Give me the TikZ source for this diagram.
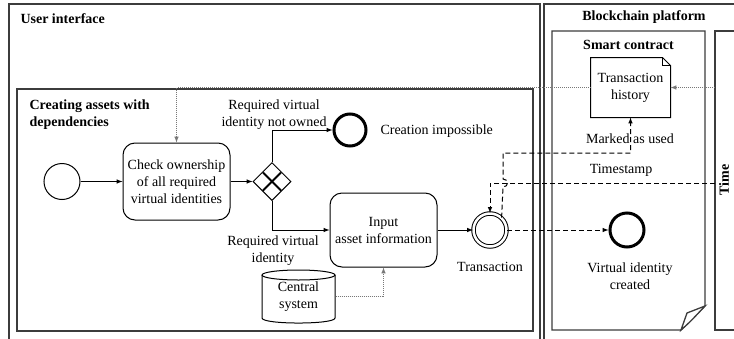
\documentclass[tikz,border=0pt]{standalone}
\usepackage{fontspec}
\setmainfont{Liberation Serif}
\usetikzlibrary{shapes.geometric}
\definecolor{lanegray}{RGB}{60,60,60}
\definecolor{dotgray}{RGB}{120,120,120}

\begin{document}
\begin{tikzpicture}[x=1pt, y=-1pt, line width=1pt,
    font=\fontsize{14}{17}\selectfont,
    lane/.style={draw=lanegray, line width=1.3pt},
    task/.style={draw, rounded corners=12pt, minimum width=107pt, align=center, inner sep=2pt},
    startev/.style={draw, circle, minimum size=36pt, inner sep=0pt},
    endev/.style={draw, circle, line width=3pt, inner sep=0pt},
    lbl/.style={align=center, inner sep=0pt},
    title/.style={font=\fontsize{14}{17}\selectfont\bfseries, inner sep=0pt},
    flow/.style={-latex},
    msgflow/.style={dash pattern=on 5pt off 3pt, -latex},
    assoc/.style={draw=dotgray, densely dotted, -latex}]
    % Fix the page size
    \useasboundingbox (0,0) rectangle (734,338);
    \clip (0,0) rectangle (734,338);

    % Pools and lanes
    \draw[lane] (9,345) -- (9,4) -- (540,4) -- (540,345);
    \draw[lane] (544,345) -- (544,4) -- (740,4);
    \draw[lane, line width=1.6pt] (17,89) rectangle (533,331);
    \draw[lane] (552,31) -- (705,31) -- (705,306) -- (681,330) -- (552,330) -- cycle;
    \draw[lane, fill=white] (705,306) -- (687,313) -- (681,330) .. controls (690,322) .. cycle;
    \draw[lane] (740,31) -- (715,31) -- (715,330) -- (740,330);

    % Titles
    \node[title, anchor=west] (tui) at (20,19) {User interface};
    \node[title, anchor=west, align=left] (tca) at (29,114.5) {Creating assets with\\dependencies};
    \node[title] (tbp) at (644,17) {Blockchain platform};
    \node[title] (tsc) at (628.5,45) {Smart contract};
    \node[title, rotate=90] (ttm) at (724,180) {Time};

    % Process elements
    \node[startev] (start) at (62,181.5) {};
    \node[task, minimum height=77pt] (check) at (176.5,181.5) {Check ownership\\of all required\\virtual identities};
    \node[draw, diamond, minimum width=38pt, minimum height=38pt, inner sep=0pt] (gw) at (272,181.5) {};
    \draw[line width=2pt] ([shift={(-9,-9)}]gw.center) -- ([shift={(9,9)}]gw.center);
    \draw[line width=2pt] ([shift={(-9,9)}]gw.center) -- ([shift={(9,-9)}]gw.center);
    \node[endev, minimum size=32pt] (impossible) at (350,130) {};
    \node[task, minimum height=74pt] (input) at (383.5,230) {Input\\asset information};
    \node[draw, circle, double, double distance=2.5pt, minimum size=33pt, inner sep=0pt] (trans) at (490,230) {};
    \node[endev, minimum size=34pt] (created) at (627,230) {};

    % Central system (data store)
    \node[lbl, minimum width=73pt, minimum height=53pt] (central) at (298.5,296.5) {Central\\system};
    \draw (298.5,275) ellipse [x radius=36.5pt, y radius=5pt];
    \draw (262,275) -- (262,318) .. controls (262,324.7) and (335,324.7) .. (335,318) -- (335,275);

    % Transaction history (document)
    \node[lbl, minimum width=79pt, minimum height=59pt] (hist) at (630.5,87.5) {Transaction\\history};
    \draw (hist.south west) -- (hist.north west) -- ([xshift=-8pt]hist.north east)
        -- ([yshift=-8pt]hist.north east) -- (hist.south east) -- cycle;
    \draw ([xshift=-8pt]hist.north east) -- ([xshift=-8pt, yshift=-8pt]hist.north east)
        -- ([yshift=-8pt]hist.north east);

    % Labels
    \node[lbl] (lnot) at (274,114.5) {Required virtual\\identity not owned};
    \node[lbl, anchor=west] (limp) at (380,131) {Creation impossible};
    \node[lbl] (lreq) at (273,250.5) {Required virtual\\identity};
    \node[lbl] (ltr) at (490,267) {Transaction};
    \node[lbl] (lcr) at (630,276) {Virtual identity\\created};
    \node[lbl] (lmk) at (630,139) {Marked as used};
    \node[lbl] (lts) at (621,170) {Timestamp};

    % Sequence flows
    \draw[flow] (start) -- (check);
    \draw[flow] (check) -- (gw);
    \draw[flow] (gw.north) |- (impossible.west);
    \draw[flow] (gw.south) |- (input.west);
    \draw[flow] (input) -- (trans);

    % Message flows
    \coordinate (ts) at (715,183);
    \coordinate (mk) at (503,153);
    \draw[msgflow] (trans) -- (created);
    \draw[msgflow] (ts) -| (trans.north);
    \draw[msgflow] (trans.47) -- (503,187) .. controls (509,187) and (509,179) .. (503,179)
        -- (mk) -| (hist.south);

    % Associations
    \coordinate (tm) at (715,87.5);
    \draw[assoc] (tm) -- (hist.east);
    \draw[assoc] (hist.west) -| (check.north);
    \draw[assoc] (central.east) -| (input.south);
\end{tikzpicture}
\end{document}
